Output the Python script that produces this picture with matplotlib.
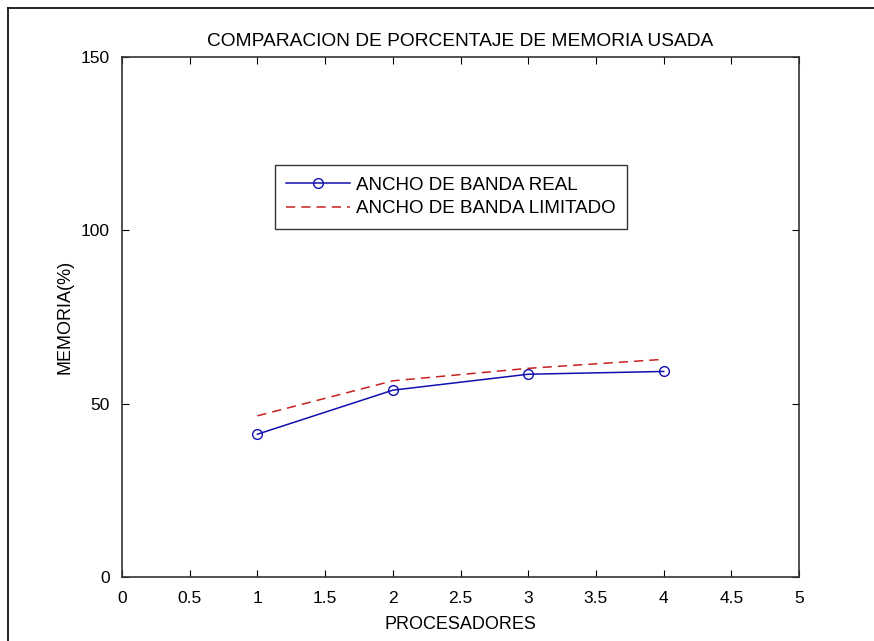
import matplotlib
matplotlib.use('Agg')
import matplotlib.pyplot as plt
from matplotlib.lines import Line2D

procesadores = [1, 2, 3, 4]
memoria_real = [41.2, 53.9, 58.5, 59.3]
memoria_limitado = [46.5, 56.6, 60.2, 62.8]

plt.rcParams['font.family'] = ['Liberation Sans', 'DejaVu Sans']
plt.rcParams['font.size'] = 13

fig = plt.figure(figsize=(8.74, 6.41), dpi=100)
ax = fig.add_axes([0.1396, 0.0998, 0.7746, 0.8112])

ax.plot(procesadores, memoria_real, color='#1010b0', marker='o', markersize=7,
        markerfacecolor='none', markeredgecolor='#1010b0', linewidth=1.1,
        label='ANCHO DE BANDA REAL')
ax.plot(procesadores, memoria_limitado, color='#c82020', linestyle=(0, (6, 4)),
        linewidth=1.1, label='ANCHO DE BANDA LIMITADO')

ax.set_xlim(0, 5)
ax.set_ylim(0, 150)
ax.set_xticks([0, 0.5, 1, 1.5, 2, 2.5, 3, 3.5, 4, 4.5, 5])
ax.set_xticklabels(['0', '0.5', '1', '1.5', '2', '2.5', '3', '3.5', '4', '4.5', '5'])
ax.set_yticks([0, 50, 100, 150])
ax.tick_params(direction='in', top=True, right=True, length=5, labelsize=12.5)
ax.tick_params(axis='x', pad=10)
ax.tick_params(axis='y', pad=9)
for s in ax.spines.values():
    s.set_color('#333333')
    s.set_linewidth(1.2)

ax.set_title('COMPARACION DE PORCENTAJE DE MEMORIA USADA', fontsize=13.8, pad=8)
ax.set_xlabel('PROCESADORES', fontsize=13, labelpad=7)
ax.set_ylabel('MEMORIA(%)', fontsize=13, labelpad=5)

leg = ax.legend(loc='upper left', bbox_to_anchor=(0.226, 0.792), fontsize=13.5,
                frameon=True, fancybox=False, edgecolor='black', handlelength=3.4,
                borderpad=0.6, labelspacing=0.35, handletextpad=0.3, borderaxespad=0)
leg.get_frame().set_linewidth(1.0)

# marco exterior
fig.add_artist(Line2D([8 / 874, 1], [1 - 8 / 641, 1 - 8 / 641], color='black', linewidth=1.2, transform=fig.transFigure))
fig.add_artist(Line2D([8 / 874, 8 / 874], [0, 1 - 8 / 641], color='black', linewidth=1.2, transform=fig.transFigure))

fig.savefig('out.png', dpi=100)
